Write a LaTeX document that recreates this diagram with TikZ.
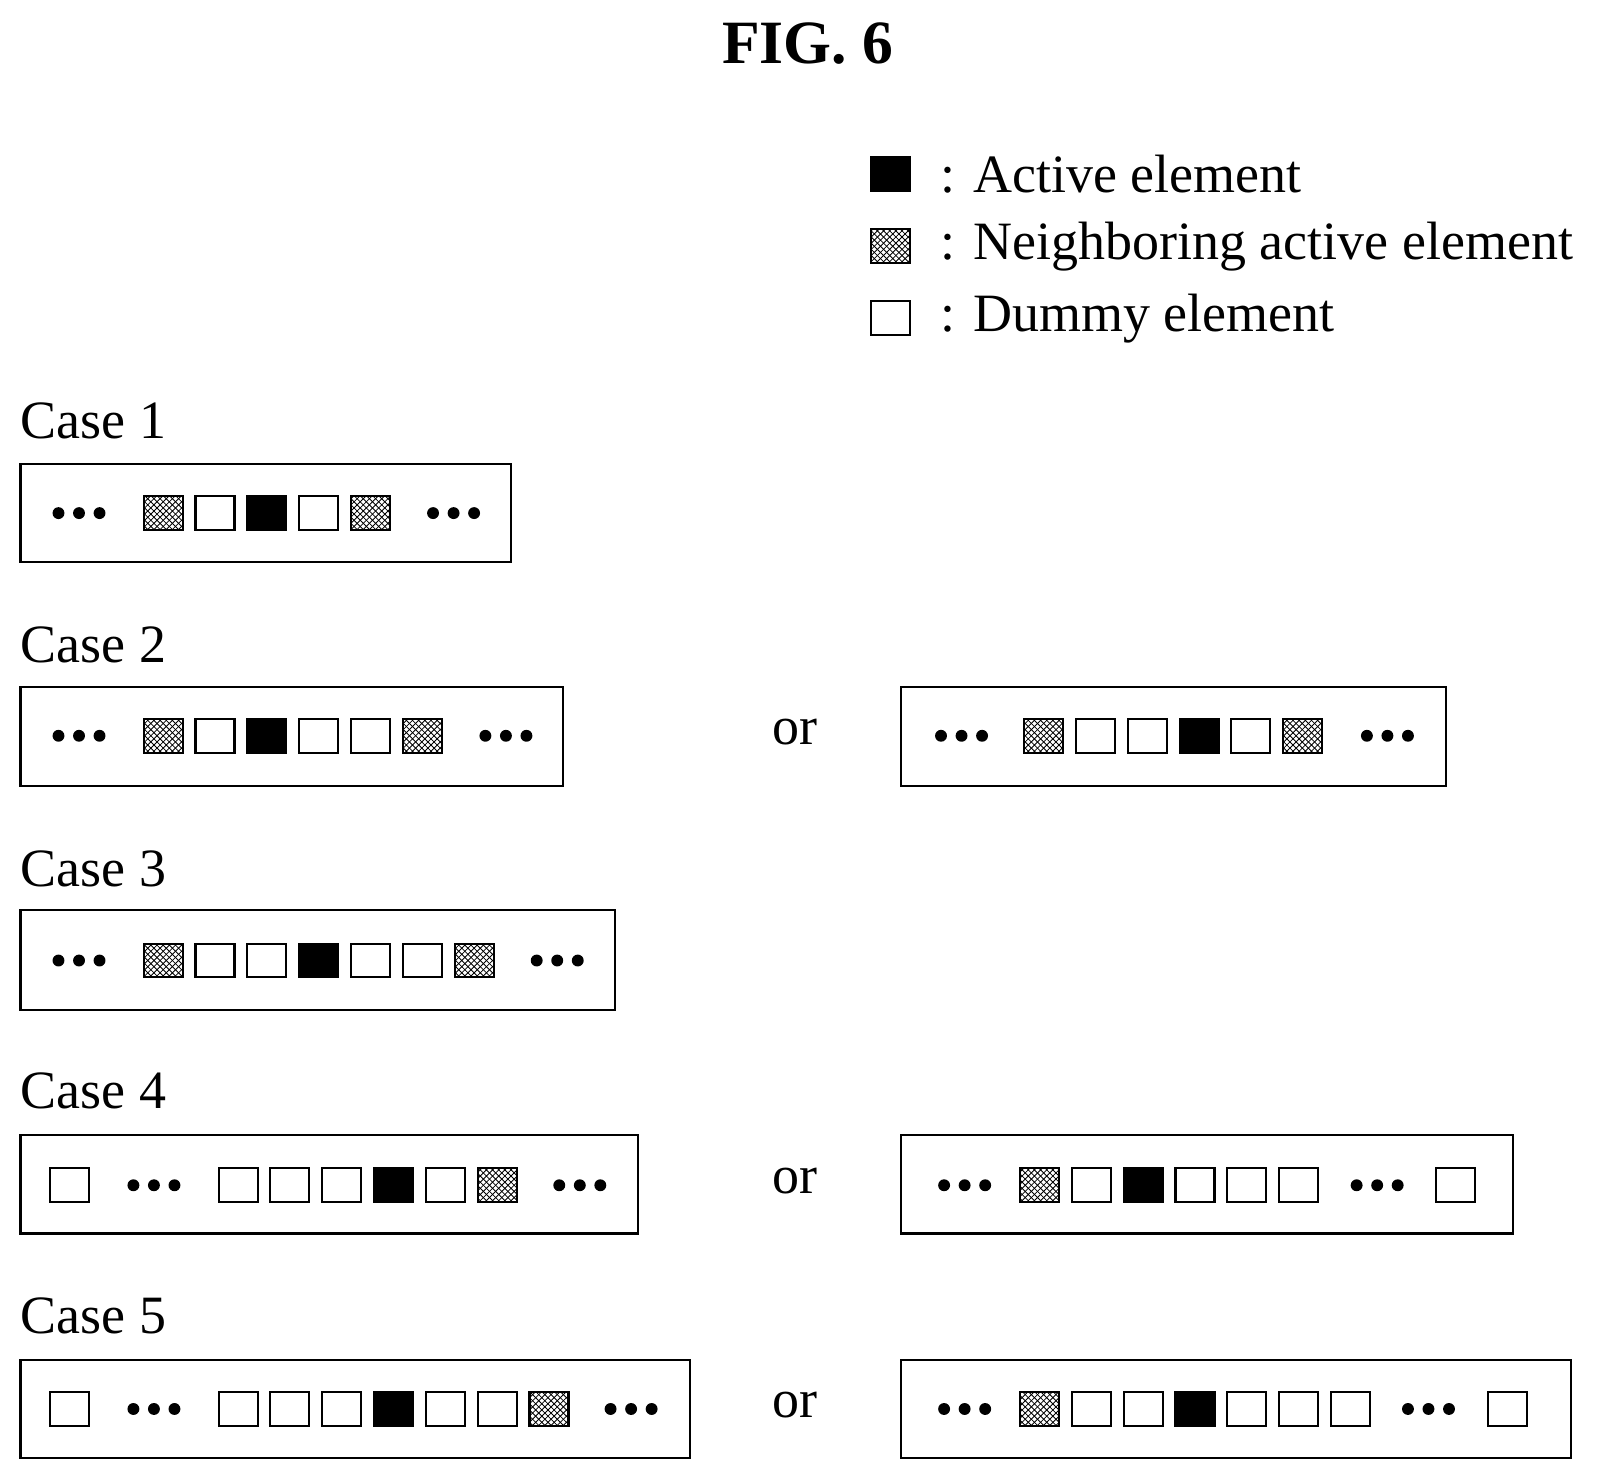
\documentclass[tikz,border=0pt]{standalone}
\usepackage{fontspec}
\setmainfont{Liberation Serif}
\usetikzlibrary{patterns}
\begin{document}
\begin{tikzpicture}[x=0.5pt,y=-0.5pt,
  cell/.style={draw,line width=1pt,minimum width=19pt,minimum height=16.5pt,inner sep=0pt},
  E/.style={cell},
  B/.style={cell,fill=black},
  H/.style={cell,postaction={pattern=north east lines},postaction={pattern=north west lines}},
  frame/.style={draw,line width=1pt},
  lbl/.style={font=\fontsize{26.3}{30}\selectfont,inner sep=0pt},
  dotc/.style={fill=black,circle,inner sep=0pt,minimum size=5.8pt}]
\useasboundingbox (0,0) rectangle (1565,1440);
\node[font=\bfseries\fontsize{30}{34}\selectfont] (title) at (787,42) {FIG. 6};
% legend
\node[B,anchor=north west] (lb) at (848,152) {};
\node[H,anchor=north west] (lh) at (848,222) {};
\node[E,anchor=north west] (le) at (848,292) {};
\node[lbl,anchor=west] (tb) at (916,170) {: Active element};
\node[lbl,anchor=west] (th) at (916,240) {: Neighboring active element};
\node[lbl,anchor=west] (te) at (916,310) {: Dummy element};
\newcommand\dts[3]{\foreach \k in {-1,0,1}{\node[dotc] (#3\k) at (#1+\k*20,#2) {};}}
\newcommand\cells[4]{\foreach \t [count=\i from 0] in {#3}{\node[\t] (#4\i) at (#1+19+\i*50.5,#2) {};}}
\newcommand\case[2]{\node[lbl,anchor=west] (#2) at (20,#1) {#2};}
% Case 1
\case{410}{Case 1}
\draw[frame] (20,452) rectangle (498,548);
\dts{77}{500}{a}\dts{442}{500}{b}
\cells{140}{500}{H,E,B,E,H}{c}
% Case 2
\case{628}{Case 2}
\draw[frame] (20,669) rectangle (549,766);
\dts{77}{717}{d}\dts{493}{717}{e}
\cells{140}{717}{H,E,B,E,E,H}{f}
\node[lbl] (or2) at (775,713) {or};
\draw[frame] (878,669) rectangle (1409,766);
\dts{937}{717}{g}\dts{1352}{717}{h}
\cells{998}{717}{H,E,E,B,E,H}{i}
% Case 3
\case{847}{Case 3}
\draw[frame] (20,887) rectangle (599,984);
\dts{77}{936}{j}\dts{543}{936}{k}
\cells{140}{936}{H,E,E,B,E,E,H}{l}
% Case 4
\case{1063}{Case 4}
\draw[frame] (20,1106) rectangle (622,1202);
\node[E] (m0) at (68,1155) {};
\dts{150}{1155}{n}\dts{565}{1155}{o}
\cells{213}{1155}{E,E,E,B,E,H}{p}
\node[lbl] (or4) at (775,1151) {or};
\draw[frame] (878,1106) rectangle (1474,1202);
\dts{940}{1155}{q}\dts{1342}{1155}{r}
\cells{994}{1155}{H,E,B,E,E,E}{s}
\node[E] (t0) at (1418,1155) {};
% Case 5
\case{1282}{Case 5}
\draw[frame] (20,1325) rectangle (672,1421);
\node[E] (u0) at (68,1373) {};
\dts{150}{1373}{v}\dts{615}{1373}{w}
\cells{213}{1373}{E,E,E,B,E,E,H}{x}
\node[lbl] (or5) at (775,1369) {or};
\draw[frame] (878,1325) rectangle (1531,1421);
\dts{940}{1373}{y}\dts{1392}{1373}{z}
\cells{994}{1373}{H,E,E,B,E,E,E}{aa}
\node[E] (ab) at (1469,1373) {};
\end{tikzpicture}
\end{document}
